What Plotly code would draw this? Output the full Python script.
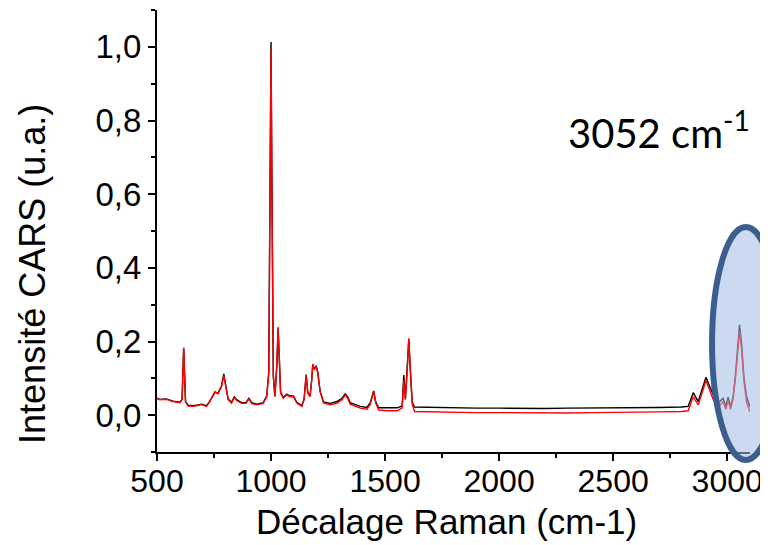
import plotly.graph_objects as go

# Raman shift (cm-1)
shift = [500, 512, 541, 570, 600, 610, 617, 625, 636, 658, 680, 695, 717, 732, 754, 768, 783, 793,
         802, 812, 827, 839, 849, 871, 890, 903, 915, 937, 966, 981, 990, 996, 1000, 1004, 1010,
         1017, 1025, 1031, 1037, 1042, 1054, 1069, 1083, 1098, 1113, 1135, 1145, 1154, 1161, 1171,
         1179, 1183, 1189, 1198, 1205, 1215, 1230, 1259, 1289, 1311, 1325, 1336, 1347, 1369, 1391,
         1421, 1435, 1450, 1459, 1472, 1509, 1553, 1575, 1582, 1589, 1597, 1604, 1611, 1619, 1629,
         1700, 1800, 1900, 2000, 2100, 2200, 2300, 2400, 2500, 2600, 2700, 2800, 2829, 2851, 2873,
         2907, 2939, 2961, 2982, 2994, 3004, 3015, 3026, 3037, 3046, 3054, 3063, 3073, 3085, 3099]

# CARS intensity, black spectrum
black = [0.046, 0.043, 0.044, 0.038, 0.035, 0.043, 0.183, 0.038, 0.027, 0.026, 0.028, 0.030, 0.026,
         0.038, 0.062, 0.060, 0.080, 0.112, 0.078, 0.044, 0.035, 0.050, 0.042, 0.034, 0.034, 0.046,
         0.034, 0.030, 0.034, 0.052, 0.116, 0.61, 1.013, 0.62, 0.107, 0.052, 0.13, 0.236, 0.13, 0.062,
         0.048, 0.057, 0.052, 0.052, 0.035, 0.026, 0.044, 0.110, 0.062, 0.052, 0.10, 0.138, 0.125,
         0.134, 0.116, 0.066, 0.036, 0.032, 0.037, 0.046, 0.058, 0.050, 0.034, 0.030, 0.024, 0.021,
         0.034, 0.066, 0.036, 0.020, 0.020, 0.020, 0.025, 0.109, 0.045, 0.12, 0.205, 0.12, 0.035,
         0.022, 0.021, 0.020, 0.019, 0.019, 0.018, 0.018, 0.019, 0.019, 0.020, 0.021, 0.021, 0.022,
         0.024, 0.061, 0.037, 0.103, 0.055, 0.033, 0.046, 0.023, 0.049, 0.023, 0.050, 0.114, 0.177,
         0.245, 0.195, 0.105, 0.050, 0.023]

# CARS intensity, red spectrum
red = [0.045, 0.042, 0.043, 0.037, 0.034, 0.042, 0.182, 0.037, 0.025, 0.024, 0.026, 0.029, 0.024,
       0.037, 0.064, 0.058, 0.078, 0.108, 0.076, 0.042, 0.033, 0.048, 0.040, 0.032, 0.032, 0.044,
       0.032, 0.028, 0.032, 0.050, 0.114, 0.60, 0.995, 0.60, 0.105, 0.050, 0.13, 0.239, 0.13, 0.060,
       0.046, 0.055, 0.050, 0.050, 0.033, 0.024, 0.042, 0.109, 0.060, 0.050, 0.10, 0.139, 0.123,
       0.132, 0.114, 0.064, 0.033, 0.028, 0.033, 0.042, 0.055, 0.046, 0.030, 0.025, 0.019, 0.016,
       0.030, 0.064, 0.033, 0.014, 0.012, 0.012, 0.020, 0.095, 0.042, 0.12, 0.209, 0.12, 0.030,
       0.010, 0.009, 0.008, 0.007, 0.007, 0.006, 0.006, 0.006, 0.007, 0.007, 0.008, 0.009, 0.010,
       0.012, 0.050, 0.028, 0.094, 0.042, 0.022, 0.037, 0.016, 0.040, 0.016, 0.045, 0.105, 0.165,
       0.227, 0.180, 0.095, 0.035, 0.010]

y_tickvals = [0.0, 0.2, 0.4, 0.6, 0.8, 1.0]
y_ticktext = ["0,0", "0,2", "0,4", "0,6", "0,8", "1,0"]
x_tickvals = [500, 1000, 1500, 2000, 2500, 3000]
x_ticktext = ["500", "1000", "1500", "2000", "2500", "3000"]

FONT = "Liberation Sans, Arial, sans-serif"

fig = go.Figure()
fig.add_trace(go.Scatter(x=shift, y=black, mode="lines",
                         line=dict(color="#000000", width=1.4), showlegend=False))
fig.add_trace(go.Scatter(x=shift, y=red, mode="lines",
                         line=dict(color="#FF0000", width=1.4), showlegend=False))

# page body has an 8px default margin: figure is 8px smaller so the page fits 768x545
fig.update_layout(
    template="none",
    width=760, height=537,
    margin=dict(l=149, r=18, t=2, b=93, autoexpand=False),
    paper_bgcolor="white", plot_bgcolor="white",
    showlegend=False,
    xaxis=dict(range=[500, 3100], showgrid=False, zeroline=False, automargin=False,
               showline=True, linecolor="black", linewidth=2,
               ticks="outside", ticklen=7, tickwidth=1.5, tickcolor="black",
               tickvals=x_tickvals, ticktext=x_ticktext, ticklabelstandoff=-7,
               tickfont=dict(family=FONT, size=32, color="black"),
               minor=dict(dtick=250, tick0=500, ticks="outside", ticklen=4,
                          tickwidth=1.5, tickcolor="black")),
    yaxis=dict(range=[-0.1, 1.1], showgrid=False, zeroline=False, automargin=False,
               showline=True, linecolor="black", linewidth=2,
               ticks="outside", ticklen=7, tickwidth=1.5, tickcolor="black",
               tickvals=y_tickvals, ticktext=y_ticktext,
               tickfont=dict(family=FONT, size=33, color="black"),
               minor=dict(dtick=0.1, tick0=-0.1, ticks="outside", ticklen=4,
                          tickwidth=1.5, tickcolor="black")),
    annotations=[
        dict(text="Intensité CARS (u.a.)", xref="paper", yref="paper",
             x=-0.209, y=0.403, textangle=-90, showarrow=False,
             xanchor="center", yanchor="middle",
             font=dict(family=FONT, size=36, color="black")),
        dict(text="Décalage Raman (cm-1)", xref="paper", yref="paper",
             x=0.488, y=-0.158, showarrow=False,
             xanchor="center", yanchor="middle",
             font=dict(family=FONT, size=35, color="black")),
        dict(text="3052 cm<sup>-1</sup>", xref="paper", yref="paper",
             x=0.690, y=0.728, showarrow=False,
             xanchor="left", yanchor="middle",
             font=dict(family="Lato, Open Sans, sans-serif", size=40, color="black")),
    ],
    shapes=[
        dict(type="circle", xref="paper", yref="paper",
             x0=0.936, x1=1.05, y0=-0.018, y1=0.509,
             line=dict(color="#3B5E8E", width=6),
             fillcolor="rgba(160,188,228,0.55)", layer="above"),
    ],
)

fig.write_html("out.html")
